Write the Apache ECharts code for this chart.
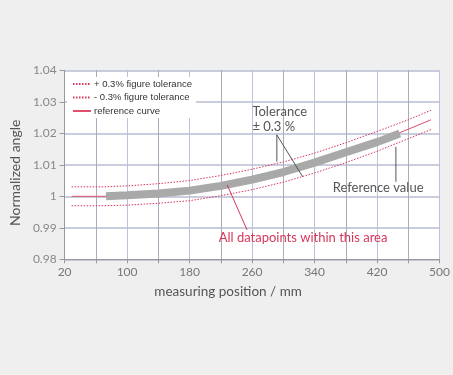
<!DOCTYPE html>
<html><head><meta charset="utf-8">
<script src="https://cdn.jsdelivr.net/npm/echarts@6/dist/echarts.min.js"></script>
<style>html,body{margin:0;padding:0;background:#efefef;}#c{width:453px;height:375px;}</style>
</head><body><div id="c"></div>
<script>
// ---- data ----
const xTickLabels = [20, 100, 180, 260, 340, 420, 500];
const refX   = [29, 73, 100, 140, 180, 220, 260, 300, 340, 380, 420, 460, 489];
const refY   = [1.0000, 1.0000, 1.0003, 1.0009, 1.0018, 1.0033, 1.0053, 1.0077, 1.0105, 1.0138, 1.0173, 1.0213, 1.0243];
const tolX   = [29, 70, 100, 140, 180, 220, 260, 300, 340, 380, 420, 460, 489];
const upperY = [1.0030, 1.0030, 1.0033, 1.0040, 1.0050, 1.0066, 1.0086, 1.0109, 1.0137, 1.0170, 1.0206, 1.0243, 1.0273];
const lowerY = [0.9970, 0.9970, 0.9972, 0.9978, 0.9986, 1.0002, 1.0021, 1.0045, 1.0074, 1.0107, 1.0143, 1.0183, 1.0212];
const bandX  = [73, 100, 140, 180, 220, 260, 300, 340, 380, 420, 449];
const bandY  = [1.0000, 1.0003, 1.0009, 1.0018, 1.0033, 1.0053, 1.0077, 1.0107, 1.0140, 1.0172, 1.0199];
const seriesNames = ['+ 0.3% figure tolerance', '- 0.3% figure tolerance', 'reference curve', 'measured values'];
// annotation anchors in data units
const leaderLines = [
  [[291.7, 1.0195], [291.7, 1.0110]],
  [[291.7, 1.0195], [324.8, 1.0062]],
  [[444.1, 1.0157], [444.1, 1.0046]]
];
const redLeader = [[228.2, 1.0036], [253.6, 0.9893]];
const notes = [
  {text: 'Tolerance', at: [260.4, 1.0268], red: false},
  {text: '\u00B1 0.3 %', at: [260.4, 1.0220], red: false},
  {text: 'Reference value', at: [363.2, 1.0026], red: false},
  {text: 'All datapoints within this area', at: [217.2, 0.9868], red: true}
];

const zip = (xs, ys) => xs.map((x, i) => [x, ys[i]]);
const RED = '#d6375a';
const chart = echarts.init(document.getElementById('c'));
chart.setOption({
  backgroundColor: '#efefef',
  animation: false,
  grid: {left: 62.7, right: 13, top: 70.3, bottom: 115.7, show: true, backgroundColor: '#fff', borderWidth: 0},
  legend: {
    data: seriesNames.slice(0, 3),
    orient: 'vertical', left: 67, top: 77,
    backgroundColor: '#fff', padding: [2, 4, 2, 5],
    itemWidth: 18, itemHeight: 9, itemGap: 3.5,
    itemStyle: {opacity: 0},
    textStyle: {fontFamily: 'Liberation Sans', fontSize: 9.5, color: '#333', padding: [0, 0, 0, -2]}
  },
  xAxis: {
    type: 'value', min: 20, max: 500, interval: 40,
    name: 'measuring position / mm', nameLocation: 'middle', nameGap: 25,
    nameTextStyle: {fontFamily: 'Lato', fontSize: 13.5, color: '#555', padding: [0, 48, 0, 0]},
    axisLine: {lineStyle: {color: '#999'}},
    axisTick: {show: true, length: 4, lineStyle: {color: '#999'}},
    axisLabel: {fontFamily: 'Lato', fontSize: 12, color: '#777', margin: 7,
      formatter: v => xTickLabels.indexOf(v) >= 0 ? String(v) : ''},
    splitLine: {show: true, lineStyle: {color: ['#bcc0d8', '#aaacbc'], width: 1}}
  },
  yAxis: {
    type: 'value', min: 0.98, max: 1.04, interval: 0.01,
    name: 'Normalized angle', nameLocation: 'middle', nameGap: 40,
    nameTextStyle: {fontFamily: 'Lato', fontSize: 14, color: '#555', padding: [0, 0, 0, -16]},
    axisLine: {show: true, lineStyle: {color: '#999'}},
    axisTick: {show: true, length: 5, lineStyle: {color: '#999'}},
    axisLabel: {fontFamily: 'Lato', fontSize: 12, color: '#888', margin: 8},
    splitLine: {show: true, lineStyle: {color: '#b8bcd2', width: 1.5}}
  },
  series: [
    {name: seriesNames[0], type: 'line', data: zip(tolX, upperY), symbol: 'none', z: 3,
     lineStyle: {color: RED, width: 1, type: [1.5, 1.5]}, itemStyle: {color: RED}},
    {name: seriesNames[1], type: 'line', data: zip(tolX, lowerY), symbol: 'none', z: 3,
     lineStyle: {color: RED, width: 1, type: [1.5, 1.5]}, itemStyle: {color: RED}},
    {name: seriesNames[2], type: 'line', data: zip(refX, refY), symbol: 'none', z: 3,
     lineStyle: {color: '#e0506e', width: 1}, itemStyle: {color: '#e0506e'}},
    {name: seriesNames[3], type: 'line', data: zip(bandX, bandY), symbol: 'none', z: 4,
     lineStyle: {color: '#a9a9a9', width: 8, cap: 'butt'}, itemStyle: {color: '#a9a9a9'}}
  ]
});

const px = p => chart.convertToPixel({gridIndex: 0}, p);
const graphics = [];
leaderLines.forEach(l => {
  const a = px(l[0]), b = px(l[1]);
  graphics.push({type: 'line', z: 10, shape: {x1: a[0], y1: a[1], x2: b[0], y2: b[1]}, style: {stroke: '#555', lineWidth: 1}});
});
{
  const a = px(redLeader[0]), b = px(redLeader[1]);
  graphics.push({type: 'line', z: 10, shape: {x1: a[0], y1: a[1], x2: b[0], y2: b[1]}, style: {stroke: RED, lineWidth: 1}});
}
notes.forEach(n => {
  const p = px(n.at);
  graphics.push({type: 'text', z: 11, x: p[0], y: p[1],
    style: {text: n.text, fill: n.red ? RED : '#555', font: '13px Lato', textAlign: 'left', textVerticalAlign: 'middle'}});
});
chart.setOption({graphic: graphics});
</script>
</body></html>
